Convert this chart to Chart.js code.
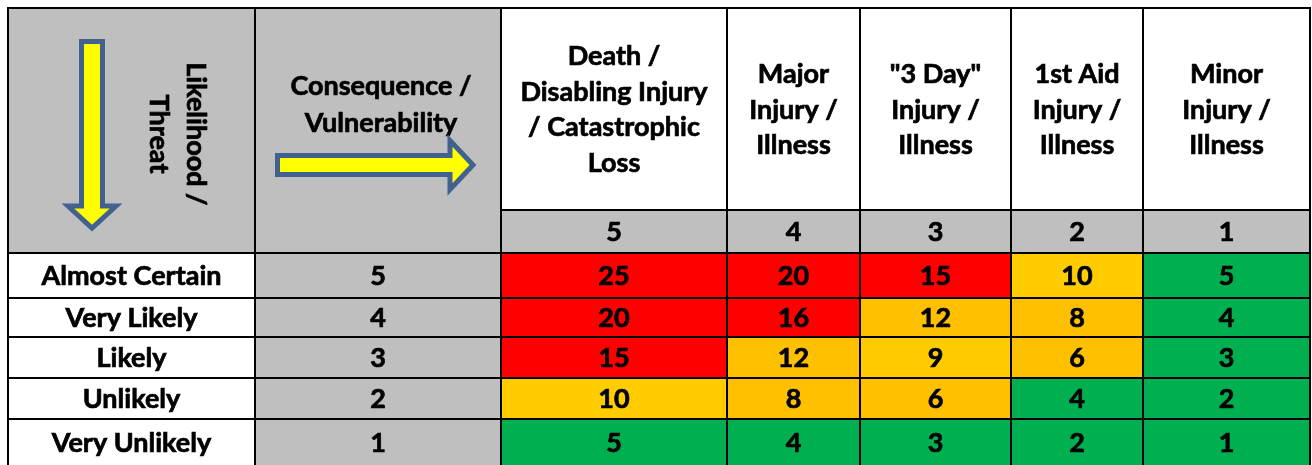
<!DOCTYPE html>
<html>
<head>
<meta charset="utf-8">
<script src="https://cdn.jsdelivr.net/npm/chart.js@4"></script>
<style>
  html, body { margin: 0; padding: 0; background: #fff; }
</style>
</head>
<body>
<canvas id="myChart" width="1312" height="465"></canvas>
<script>
const likelihoodLabels = [
    'Almost Certain',
    'Very Likely',
    'Likely',
    'Unlikely',
    'Very Unlikely',
];
const likelihoodScores = [5, 4, 3, 2, 1];

const consequenceLabels = [
    ['Death /', 'Disabling Injury', '/ Catastrophic', 'Loss'],
    ['Major', 'Injury /', 'Illness'],
    ['"3 Day"', 'Injury /', 'Illness'],
    ['1st Aid', 'Injury /', 'Illness'],
    ['Minor', 'Injury /', 'Illness'],
];
const consequenceScores = [5, 4, 3, 2, 1];

// rows = likelihood, columns = consequence
const riskScores = [
    [25, 20, 15, 10, 5],
    [20, 16, 12, 8, 4],
    [15, 12, 9, 6, 3],
    [10, 8, 6, 4, 2],
    [5, 4, 3, 2, 1],
];

const cornerTitles = {
    likelihood: ['Likelihood /', 'Threat'],
    consequence: ['Consequence /', 'Vulnerability'],
};

// layout of the grid, in scale units
const colWidths = [247, 246, 226, 133, 151, 132, 167];
const rowHeights = [202, 43, 45, 39, 41, 41, 48];

const GREY = '#BFBFBF';
const FONT = 'bold 27px Lato';

function riskColour(score) {
    if (score >= 15) return '#FF0000';
    if (score === 9 || score === 10) return '#FFCC00';
    if (score >= 6) return '#FFC000';
    return '#00B050';
}

function edges(sizes) {
    const out = [0];
    sizes.forEach(s => out.push(out[out.length - 1] + s));
    return out;
}

const xEdges = edges(colWidths);
const yEdges = edges(rowHeights);

function drawArrow(ctx, pts) {
    ctx.save();
    ctx.beginPath();
    pts.forEach((p, i) => i ? ctx.lineTo(p[0], p[1]) : ctx.moveTo(p[0], p[1]));
    ctx.closePath();
    ctx.fillStyle = '#FFFF00';
    ctx.fill();
    ctx.lineWidth = 5;
    ctx.lineJoin = 'miter';
    ctx.strokeStyle = '#41628F';
    ctx.stroke();
    ctx.restore();
}

const matrixPlugin = {
    id: 'riskMatrix',
    afterDraw(chart) {
        const ctx = chart.ctx;
        const xs = chart.scales.x, ys = chart.scales.y;
        const X = i => xs.getPixelForValue(xEdges[i]);
        const Y = i => ys.getPixelForValue(yEdges[i]);
        const nCols = colWidths.length, nRows = rowHeights.length;

        const cell = (c, r, colour, c2, r2) => {
            ctx.fillStyle = colour;
            ctx.fillRect(X(c), Y(r), X(c2 ?? c + 1) - X(c), Y(r2 ?? r + 1) - Y(r));
        };
        // heavier text, closer to the original bold face
        const text = (str, cx, cy) => {
            ctx.fillText(str, cx, cy);
            ctx.strokeText(str, cx, cy);
        };

        ctx.save();
        // header block
        cell(0, 0, GREY, 1, 2);
        cell(1, 0, GREY, 2, 2);
        for (let c = 2; c < nCols; c++) {
            cell(c, 0, '#FFFFFF');
            cell(c, 1, GREY);
        }
        // body
        riskScores.forEach((row, r) => {
            cell(0, r + 2, '#FFFFFF');
            cell(1, r + 2, GREY);
            row.forEach((v, c) => cell(c + 2, r + 2, riskColour(v)));
        });

        ctx.fillStyle = '#000';
        ctx.strokeStyle = '#000';
        ctx.lineWidth = 0.7;
        ctx.font = FONT;
        ctx.textAlign = 'center';
        ctx.textBaseline = 'middle';
        const lineH = 35.5;

        consequenceLabels.forEach((lines, i) => {
            const cx = (X(i + 2) + X(i + 3)) / 2;
            const cy = (Y(0) + Y(1)) / 2 + 1;
            lines.forEach((l, k) => text(l, cx, cy + (k - (lines.length - 1) / 2) * lineH));
            text(String(consequenceScores[i]), cx, (Y(1) + Y(2)) / 2 + 1);
        });

        likelihoodLabels.forEach((l, r) => {
            let bottom = Y(r + 3);
            if (r === likelihoodLabels.length - 1) bottom = Math.min(bottom, chart.height);
            const cy = (Y(r + 2) + bottom) / 2 + 1;
            text(l, (X(0) + X(1)) / 2, cy);
            text(String(likelihoodScores[r]), (X(1) + X(2)) / 2, cy);
            riskScores[r].forEach((v, c) => {
                text(String(v), (X(c + 2) + X(c + 3)) / 2, cy);
            });
        });

        // consequence corner
        const c1 = X(1), top = Y(0);
        const conLines = cornerTitles.consequence;
        conLines.forEach((l, k) => text(l, (X(1) + X(2)) / 2 + 3, top + 78 + k * 37));
        const ay = top + 157;
        drawArrow(ctx, [
            [c1 + 22.5, ay - 9.5], [c1 + 195, ay - 9.5], [c1 + 195, ay - 24.5],
            [c1 + 218, ay], [c1 + 195, ay + 24.5], [c1 + 195, ay + 9.5],
            [c1 + 22.5, ay + 9.5],
        ]);

        // likelihood corner
        const c0 = X(0);
        const ax = c0 + 84;
        drawArrow(ctx, [
            [ax - 10.5, top + 33.5], [ax + 10.5, top + 33.5], [ax + 10.5, top + 198],
            [ax + 24, top + 198], [ax, top + 220], [ax - 24, top + 198],
            [ax - 10.5, top + 198],
        ]);
        ctx.save();
        ctx.translate(c0 + 169.5, top + 126);
        ctx.rotate(Math.PI / 2);
        const likLines = cornerTitles.likelihood;
        likLines.forEach((l, k) => text(l, 0, (k - 0.5) * 37));
        ctx.restore();

        // grid lines
        ctx.strokeStyle = '#000';
        ctx.lineWidth = 2;
        ctx.beginPath();
        for (let c = 0; c <= nCols; c++) {
            ctx.moveTo(X(c), Y(0) - 1);
            ctx.lineTo(X(c), Y(nRows));
        }
        ctx.moveTo(X(0) - 1, Y(0));
        ctx.lineTo(X(nCols) + 1, Y(0));
        ctx.moveTo(X(2), Y(1));
        ctx.lineTo(X(nCols), Y(1));
        for (let r = 2; r <= nRows; r++) {
            ctx.moveTo(X(0) - 1, Y(r));
            ctx.lineTo(X(nCols) + 1, Y(r));
        }
        ctx.stroke();
        ctx.restore();
    }
};

const config = {
    type: 'scatter',
    data: { datasets: [] },
    options: {
        responsive: false,
        animation: false,
        layout: { padding: { left: 8, right: 2, top: 8, bottom: 0 } },
        scales: {
            x: { type: 'linear', display: false, min: 0, max: 1302 },
            y: { type: 'linear', display: false, min: 0, max: 457, reverse: true },
        },
        plugins: {
            legend: { display: false },
            tooltip: { enabled: false },
        }
    },
    plugins: [matrixPlugin],
};

const myChart = new Chart(
    document.getElementById('myChart'),
    config
);
</script>
</body>
</html>
